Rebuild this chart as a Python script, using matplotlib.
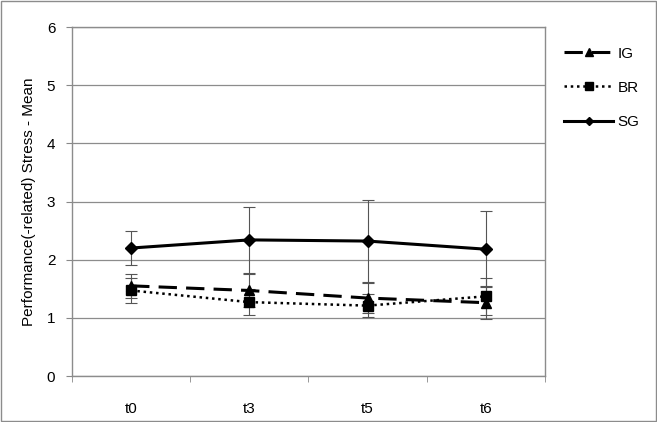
import matplotlib.pyplot as plt
from matplotlib.lines import Line2D
import numpy as np

plt.rcParams['font.family'] = ['Liberation Sans', 'DejaVu Sans']

# === data ===
times = ["t0", "t3", "t5", "t6"]
ig_mean = [1.55, 1.47, 1.34, 1.26]
br_mean = [1.47, 1.27, 1.21, 1.37]
sg_mean = [2.20, 2.34, 2.32, 2.18]
ig_err = [0.21, 0.28, 0.26, 0.28]
br_err = [0.22, 0.22, 0.20, 0.32]
sg_err = [0.30, 0.57, 0.71, 0.65]

FS = 11

fig = plt.figure(figsize=(6.57, 4.22), dpi=100)
ax = fig.add_axes([0.1096, 0.109, 0.7199, 0.827])

x = np.arange(len(times))
ekw = dict(ecolor='#555555', elinewidth=0.8, capsize=4, capthick=0.8)

styles = {
    'IG': dict(ls=(0, (6, 3)), lw=2.2, marker='^', ms=7),
    'BR': dict(ls=(0, (1, 1.5)), lw=1.8, marker='s', ms=7),
    'SG': dict(ls='-', lw=2.2, marker='D', ms=6),
}

ax.errorbar(x, ig_mean, yerr=ig_err, color='black', **styles['IG'], **ekw)
ax.errorbar(x, br_mean, yerr=br_err, color='black', **styles['BR'], **ekw)
ax.errorbar(x, sg_mean, yerr=sg_err, color='black', **styles['SG'], **ekw)

ax.set_xlim(-0.5, len(times) - 0.5)
ax.set_ylim(0, 6)
ax.set_yticks(range(0, 7))
ax.set_xticks(x)
ax.set_xticklabels(times)
ax.set_xticks(np.arange(-0.5, len(times), 1), minor=True)
ax.tick_params(axis='x', which='major', length=0, pad=19, labelsize=FS)
ax.tick_params(axis='x', which='minor', length=4, color='#888888')
ax.tick_params(axis='y', length=4, color='#888888', labelsize=FS, pad=8)
ax.grid(axis='y', color='#8c8c8c', lw=0.9)
ax.set_axisbelow(True)
for s in ax.spines.values():
    s.set_color('#8c8c8c')
    s.set_linewidth(1.0)

ax.set_ylabel("Performance(-related) Stress - Mean", fontsize=FS, labelpad=8)

# legend without error bars
handles = []
for name in ['IG', 'BR', 'SG']:
    st = dict(styles[name])
    st['ms'] = st['ms'] - 1.5
    handles.append(Line2D([], [], color='black', label=name, **st))
fig.legend(handles=handles, loc='upper left', bbox_to_anchor=(0.838, 0.922), frameon=False,
           fontsize=FS, handlelength=3.2, labelspacing=1.32, handletextpad=0.3)

# outer border
fig.patches.append(plt.Rectangle((0.001, 0.002), 0.997, 0.995, transform=fig.transFigure,
                                 fill=False, edgecolor='#8c8c8c', lw=1.0))

plt.savefig("out.png", dpi=100)
